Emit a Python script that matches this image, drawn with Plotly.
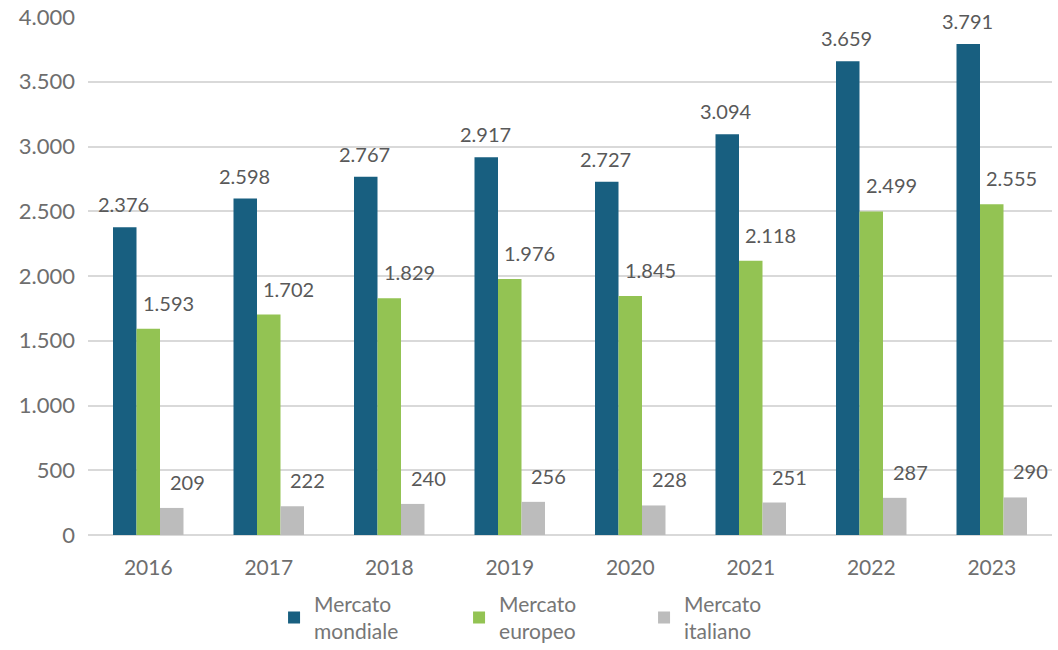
import plotly.graph_objects as go

years = ["2016", "2017", "2018", "2019", "2020", "2021", "2022", "2023"]
mondiale = [2376, 2598, 2767, 2917, 2727, 3094, 3659, 3791]
europeo = [1593, 1702, 1829, 1976, 1845, 2118, 2499, 2555]
italiano = [209, 222, 240, 256, 228, 251, 287, 290]

series_names = ["Mercato<br>mondiale", "Mercato<br>europeo", "Mercato<br>italiano"]
series_values = [mondiale, europeo, italiano]
colors = ["#185f80", "#93c353", "#bcbcbc"]
label_xshift = [-24.5, 20, 39]
label_yshift = [9, 12, 12]

FONT = "Lato"

fig = go.Figure()
for name, vals, col in zip(series_names, series_values, colors):
    fig.add_trace(go.Bar(x=years, y=vals, name=name, marker=dict(color=col, line=dict(width=0))))

def fmt(v):
    return f"{v:,}".replace(",", ".")

for vals, xs, ys in zip(series_values, label_xshift, label_yshift):
    for i, v in enumerate(vals):
        fig.add_annotation(x=i, y=v, xref="x", yref="y", text=fmt(v), showarrow=False,
                           xanchor="center", yanchor="bottom", xshift=xs, yshift=ys,
                           font=dict(family=FONT, size=20, color="#595959"))

fig.update_layout(
    width=1058, height=650,
    margin=dict(l=88, r=6, t=17, b=115, autoexpand=False),
    plot_bgcolor="white", paper_bgcolor="white",
    barmode="group", bargap=0.415, bargroupgap=0,
    font=dict(family=FONT, size=20, color="#6e6e6e"),
    legend=dict(orientation="h", x=0.193, xanchor="left", y=-0.094, yanchor="top",
                font=dict(family=FONT, size=21, color="#767676"),
                entrywidth=140, entrywidthmode="pixels", itemwidth=30),
    showlegend=True,
    separators=",.",
)
fig.update_xaxes(type="category", categoryorder="array", categoryarray=years,
                 range=[-0.5, len(years) - 0.5],
                 showgrid=False, showline=False, ticks="", ticklabelstandoff=18,
                 tickfont=dict(family=FONT, size=21, color="#6e6e6e"))
fig.update_yaxes(range=[0, 4000], dtick=500, showgrid=True, gridcolor="#d9d9d9", gridwidth=1.5,
                 zeroline=True, zerolinecolor="#d9d9d9", zerolinewidth=1.5,
                 tickformat=",d", ticklabelstandoff=12,
                 tickfont=dict(family=FONT, size=22, color="#6e6e6e"))

fig.write_html("out.html")
